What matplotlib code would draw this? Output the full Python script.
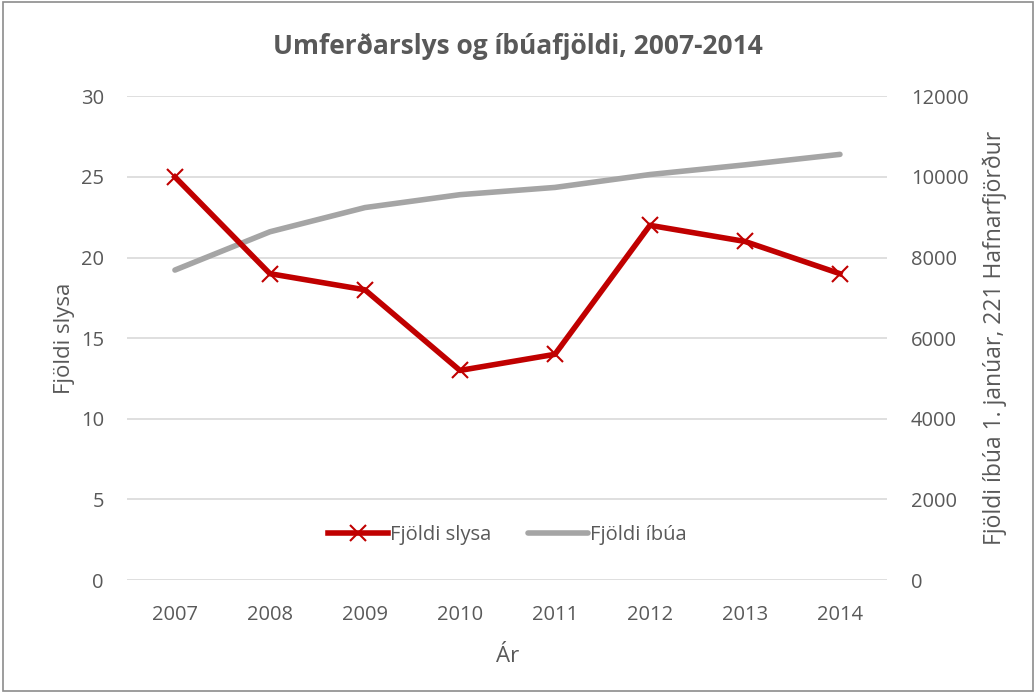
import matplotlib.pyplot as plt
from matplotlib.patches import Rectangle

plt.rcParams['font.family'] = ['Open Sans', 'DejaVu Sans']

years = ['2007', '2008', '2009', '2010', '2011', '2012', '2013', '2014']
slys = [25, 19, 18, 13, 14, 22, 21, 19]
ibuar = [7690, 8640, 9240, 9560, 9740, 10060, 10300, 10560]

txt = '#595959'
red = '#c00000'
grey = '#a5a5a5'

fig = plt.figure(figsize=(10.36, 6.93), dpi=100)
ax = fig.add_axes([0.123, 0.163, 0.7336, 0.698])
ax2 = ax.twinx()

x = list(range(len(years)))
l1, = ax.plot(x, slys, color=red, lw=4, marker='x', markersize=11,
              markeredgewidth=1.5, label='Fjöldi slysa', zorder=3)
l2, = ax2.plot(x, ibuar, color=grey, lw=4, solid_capstyle='round',
               label='Fjöldi íbúa', zorder=2)
ax.set_zorder(ax2.get_zorder() + 1)
ax.patch.set_visible(False)

ax.set_xlim(-0.5, 7.5)
ax.set_ylim(0, 30)
ax2.set_ylim(0, 12000)
ax.set_yticks(range(0, 31, 5))
ax2.set_yticks(range(0, 12001, 2000))
ax.set_xticks(x)
ax.set_xticklabels(years)
ax2.grid(axis='y', color='#d9d9d9', lw=1.2)
ax2.set_axisbelow(True)

for a in (ax, ax2):
    for s in a.spines.values():
        s.set_visible(False)
    a.tick_params(length=0, labelsize=14.5, colors=txt)
ax.tick_params(axis='y', pad=17)
ax2.tick_params(axis='y', pad=17)
ax.tick_params(axis='x', pad=18)

ax.set_ylabel('Fjöldi slysa', fontsize=16, color=txt, labelpad=4)
ax2.set_ylabel('Fjöldi íbúa 1. janúar, 221 Hafnarfjörður', fontsize=16.5,
               color=txt, labelpad=10)
ax.set_xlabel('Ár', fontsize=16, color=txt, labelpad=15)
fig.suptitle('Umferðarslys og íbúafjöldi, 2007-2014', fontsize=19,
             fontweight='bold', color=txt, y=0.952)

ax.legend([l1, l2], ['Fjöldi slysa', 'Fjöldi íbúa'], loc='lower center',
          bbox_to_anchor=(0.5, 0.035), ncol=2, frameon=False, fontsize=14.5,
          labelcolor=txt, handlelength=3, handletextpad=0.1, columnspacing=1.8)

fig.patches.append(Rectangle((0.003, 0.003), 0.994, 0.994, transform=fig.transFigure,
                             fill=False, edgecolor='#8c8c8c', lw=1.2))

fig.savefig('out.png', dpi=100)
